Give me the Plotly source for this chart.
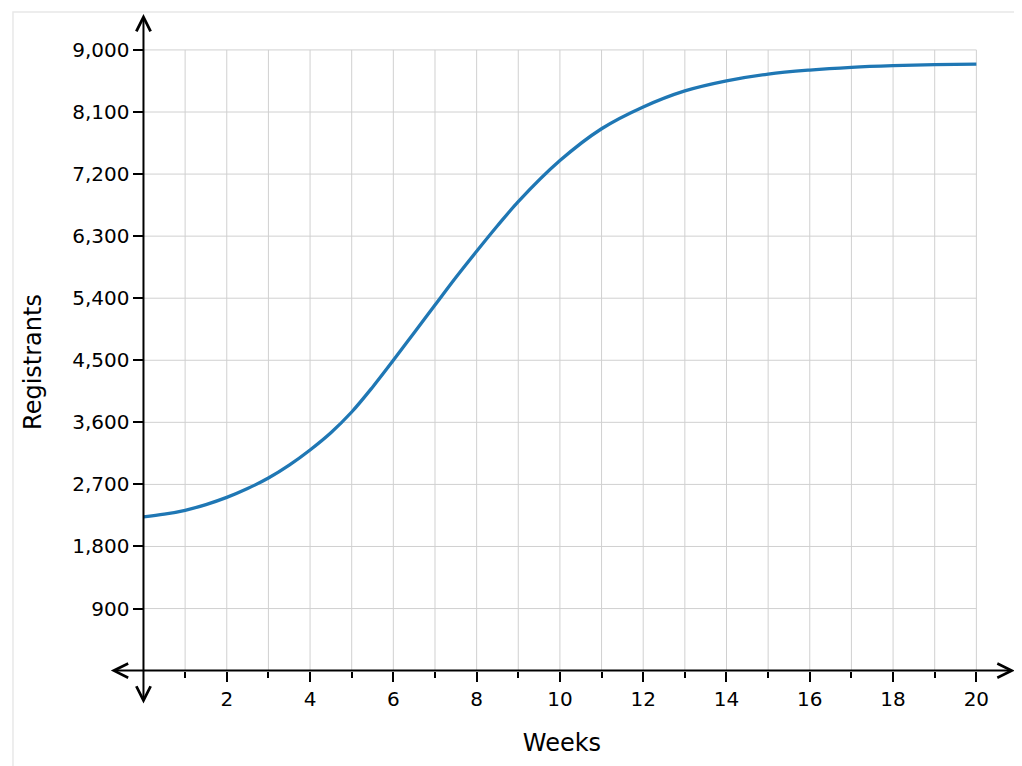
import plotly.graph_objects as go

# Registrants per week
weeks = [0, 0.5, 1, 1.5, 2, 2.5, 3, 3.5, 4, 4.5, 5, 5.5, 6, 6.5, 7, 7.5, 8,
         8.5, 9, 10, 11, 12, 13, 14, 15, 16, 17, 18, 19, 20]
registrants = [2230, 2268, 2325, 2408, 2512, 2640, 2793, 2980, 3200, 3450,
               3750, 4110, 4500, 4900, 5300, 5700, 6080,
               6450, 6800, 7395, 7857, 8173, 8406, 8552, 8650, 8708, 8747,
               8771, 8786, 8795]

x_major = [2, 4, 6, 8, 10, 12, 14, 16, 18, 20]
x_minor = [1, 3, 5, 7, 9, 11, 13, 15, 17, 19]
x_grid = list(range(1, 21))
y_ticks = [900, 1800, 2700, 3600, 4500, 5400, 6300, 7200, 8100, 9000]

x_range = [-0.9, 21.0]
y_range = [-600, 9550]

font = "DejaVu Sans, Liberation Sans, sans-serif"
grid_col = "#d0d0d0"

fig = go.Figure()
fig.add_trace(go.Scatter(
    x=weeks, y=registrants, mode="lines",
    line=dict(color="#1f77b4", width=3.3, shape="spline", smoothing=1.0),
    hoverinfo="x+y", showlegend=False,
))

# grid only over the first quadrant, like the reference
shapes = []
for gx in x_grid:
    shapes.append(dict(type="line", xref="x", yref="y", x0=gx, x1=gx,
                       y0=0, y1=y_ticks[-1], layer="below",
                       line=dict(color=grid_col, width=1)))
for gy in y_ticks:
    shapes.append(dict(type="line", xref="x", yref="y", x0=0, x1=x_grid[-1],
                       y0=gy, y1=gy, layer="below",
                       line=dict(color=grid_col, width=1)))
# faint frame round the picture
shapes.append(dict(type="rect", xref="paper", yref="paper",
                   x0=-0.102, x1=1.006, y0=-0.09, y1=1.0,
                   line=dict(color="#e8e8e8", width=1.5)))

# axis lines with arrow heads at both ends
arrows = [
    dict(x=20.92, y=0, ax=-0.82, ay=0),
    dict(x=0, y=9520, ax=0, ay=-500),
]
annotations = []
for a in arrows:
    annotations.append(dict(
        x=a["x"], y=a["y"], ax=a["ax"], ay=a["ay"],
        xref="x", yref="y", axref="x", ayref="y",
        text="", showarrow=True, arrowside="end+start",
        arrowhead=5, startarrowhead=5, arrowsize=1.4, startarrowsize=1.4,
        arrowwidth=2, arrowcolor="black",
    ))

# page body adds 8px, so the figure is drawn 8px smaller with the same plot box
fig.update_layout(
    width=1014, height=758,
    margin=dict(l=98, r=4, t=4, b=54),
    paper_bgcolor="white", plot_bgcolor="white",
    font=dict(family=font, size=20, color="black"),
    shapes=shapes, annotations=annotations,
    xaxis=dict(
        range=x_range, anchor="free",
        position=(0 - y_range[0]) / (y_range[1] - y_range[0]),
        showgrid=False, zeroline=False, showline=False,
        tickmode="array", tickvals=x_major, ticks="outside", ticklen=10,
        tickwidth=1.6, tickcolor="black", tickfont=dict(size=20),
        minor=dict(tickmode="array", tickvals=x_minor, ticks="outside",
                   ticklen=6, tickwidth=1.6, tickcolor="black", showgrid=False),
        title=dict(text="Weeks", font=dict(size=24), standoff=24),
        fixedrange=True,
    ),
    yaxis=dict(
        range=y_range, anchor="free",
        position=(0 - x_range[0]) / (x_range[1] - x_range[0]),
        showgrid=False, zeroline=False, showline=False,
        tickmode="array", tickvals=y_ticks, tickformat=",d",
        ticks="outside", ticklen=10, tickwidth=1.6, tickcolor="black",
        tickfont=dict(size=20),
        title=dict(text="Registrants", font=dict(size=24), standoff=22),
        fixedrange=True,
    ),
)

fig.write_html("out.html")
